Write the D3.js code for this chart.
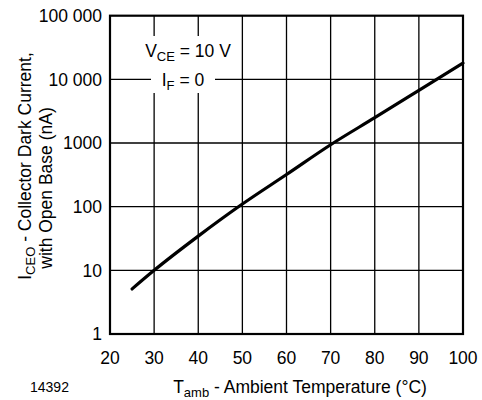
<!DOCTYPE html>
<html>
<head>
<meta charset="utf-8">
<script src="https://cdn.jsdelivr.net/npm/d3@7"></script>
<style>
  html, body { margin: 0; padding: 0; background: #fff; }
  svg text { font-family: "Liberation Sans", Arial, Helvetica, sans-serif; fill: #000; }
</style>
</head>
<body>
<div id="chart"></div>
<script>
// Curve data
const temps = [25, 30, 40, 50, 60, 70, 80, 90, 100];
const darkCurrent = [5.1, 10, 34.5, 110, 320, 940, 2500, 6700, 18000];

// Ticks
const xTicks = [20, 30, 40, 50, 60, 70, 80, 90, 100];
const yTicks = [1, 10, 100, 1000, 10000, 100000];
const yTickLabels = ["1", "10", "100", "1000", "10 000", "100 000"];

const width = 482;
const height = 400;
const plot = { left: 110, right: 463, top: 15.7, bottom: 334 };
const fs = 17.5, subFs = 13;

const svg = d3.select("#chart")
  .append("svg")
  .attr("width", width)
  .attr("height", height);

const x = d3.scaleLinear().domain([20, 100]).range([plot.left, plot.right]);
const y = d3.scaleLog().domain([1, 100000]).range([plot.bottom, plot.top]);

// Grid
const grid = svg.append("g").attr("stroke", "#000").attr("stroke-width", 1.3);
grid.selectAll("line.vx")
  .data(xTicks.slice(1, -1))
  .enter().append("line")
  .attr("x1", d => x(d)).attr("x2", d => x(d))
  .attr("y1", plot.top).attr("y2", plot.bottom);
grid.selectAll("line.hy")
  .data(yTicks.slice(1, -1))
  .enter().append("line")
  .attr("x1", plot.left).attr("x2", plot.right)
  .attr("y1", d => y(d)).attr("y2", d => y(d));

// Tick labels
svg.append("g").selectAll("text")
  .data(yTicks)
  .enter().append("text")
  .attr("x", 102)
  .attr("y", d => y(d))
  .attr("dy", "0.36em")
  .attr("text-anchor", "end")
  .attr("font-size", fs)
  .text((d, i) => yTickLabels[i]);

svg.append("g").selectAll("text")
  .data(xTicks)
  .enter().append("text")
  .attr("x", d => x(d))
  .attr("y", 364)
  .attr("text-anchor", "middle")
  .attr("font-size", fs)
  .text(d => d);

// Condition label with white backing over the grid
svg.append("rect").attr("x", 140).attr("y", 36).attr("width", 97).attr("height", 34).attr("fill", "#fff");
svg.append("rect").attr("x", 151).attr("y", 68).attr("width", 64).attr("height", 25).attr("fill", "#fff");

const l1 = svg.append("text").attr("x", 188).attr("y", 57).attr("text-anchor", "middle").attr("font-size", fs);
l1.append("tspan").text("V");
l1.append("tspan").attr("font-size", subFs).attr("dy", 4).text("CE");
l1.append("tspan").attr("dy", -4).text(" = 10 V");

const l2 = svg.append("text").attr("x", 183).attr("y", 86).attr("text-anchor", "middle").attr("font-size", fs);
l2.append("tspan").text("I");
l2.append("tspan").attr("font-size", subFs).attr("dy", 4).text("F");
l2.append("tspan").attr("dy", -4).text(" = 0");

// Frame
svg.append("rect")
  .attr("x", plot.left).attr("y", plot.top)
  .attr("width", plot.right - plot.left).attr("height", plot.bottom - plot.top)
  .attr("fill", "none").attr("stroke", "#000").attr("stroke-width", 2.2);

// Curve
const line = d3.line()
  .x(d => x(d[0]))
  .y(d => y(d[1]))
  .curve(d3.curveMonotoneX);

svg.append("path")
  .datum(temps.map((t, i) => [t, darkCurrent[i]]))
  .attr("d", line)
  .attr("fill", "none")
  .attr("stroke", "#000")
  .attr("stroke-width", 3.2)
  .attr("stroke-linecap", "round");

// Axis titles
const xt = svg.append("text").attr("x", 300).attr("y", 393).attr("text-anchor", "middle").attr("font-size", fs);
xt.append("tspan").text("T");
xt.append("tspan").attr("font-size", subFs).attr("dy", 4).text("amb");
xt.append("tspan").attr("dy", -4).text(" - Ambient Temperature (°C)");

const yt1 = svg.append("text")
  .attr("transform", "translate(31,166) rotate(-90)")
  .attr("text-anchor", "middle").attr("font-size", fs);
yt1.append("tspan").text("I");
yt1.append("tspan").attr("font-size", subFs).attr("dy", 4).text("CEO");
yt1.append("tspan").attr("dy", -4).text(" - Collector Dark Current,");

svg.append("text")
  .attr("transform", "translate(52,188) rotate(-90)")
  .attr("text-anchor", "middle").attr("font-size", fs)
  .text("with Open Base (nA)");

// Figure number
svg.append("text").attr("x", 30).attr("y", 392).attr("font-size", 14).text("14392");
</script>
</body>
</html>
